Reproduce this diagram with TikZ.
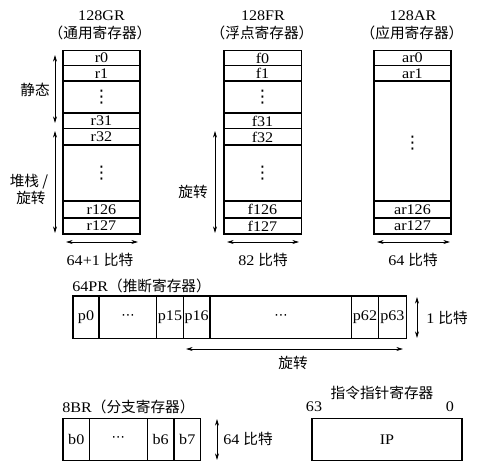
\documentclass[tikz,border=0pt]{standalone}
\usepackage{fontspec}
\setmainfont{Liberation Serif}[FakeStretch=1.1]
\newfontfamily\cjk{Noto Sans CJK SC}
\newfontfamily\dotfont{DejaVu Sans}
\usetikzlibrary{arrows.meta}
\newcommand{\vdotsym}{{\dotfont\fontsize{13}{13}\selectfont ⋮}}
\newcommand{\hdotsym}{{\dotfont\fontsize{10}{10}\selectfont ⋯}}
\tikzset{
	regline/.style={draw=black, line width=1.1pt},
	dimarrow/.style={draw=black, line width=0.6pt, {Stealth[length=5pt,width=3pt]}-{Stealth[length=5pt,width=3pt]}},
	txt/.style={black, inner sep=0pt, font=\fontsize{11}{13}\selectfont},
}
\begin{document}
\begin{tikzpicture}[x=0.75pt,y=-0.75pt]
	\useasboundingbox (0,0) rectangle (485,471);
	\node[txt] (grname) at (101.5,16) {128GR};
	\node[txt] (grcn) at (100,33) {\cjk （通用寄存器）};
	\node[txt] (frname) at (263,16) {128FR};
	\node[txt] (frcn) at (262,33) {\cjk （浮点寄存器）};
	\node[txt] (arname) at (413,16) {128AR};
	\node[txt] (arcn) at (412,33) {\cjk （应用寄存器）};
	\draw[regline] (63,50.5) rectangle (140,234);
	\foreach \y in {65.5,81,113,128.5,145,201,218}
		\draw[regline] (63,\y) -- (140,\y);
	\node[txt] (r0) at (101.5,58) {r0};
	\node[txt] (r1) at (101.5,73.5) {r1};
	\node[txt] (rdotsA) at (101.5,97) {\vdotsym};
	\node[txt] (r31) at (101.5,121) {r31};
	\node[txt] (r32) at (101.5,137) {r32};
	\node[txt] (rdotsB) at (101.5,173) {\vdotsym};
	\node[txt] (r126) at (101.5,209.5) {r126};
	\node[txt] (r127) at (101.5,226) {r127};
	\draw[regline] (224,50.5) rectangle (301.5,234);
	\foreach \y in {65.5,81,113,128.5,145,201,218}
		\draw[regline] (224,\y) -- (301.5,\y);
	\node[txt] (f0) at (262.5,58) {f0};
	\node[txt] (f1) at (262.5,73.5) {f1};
	\node[txt] (fdotsA) at (262.5,97) {\vdotsym};
	\node[txt] (f31) at (262.5,121) {f31};
	\node[txt] (f32) at (262.5,137) {f32};
	\node[txt] (fdotsB) at (262.5,173) {\vdotsym};
	\node[txt] (f126) at (262.5,209.5) {f126};
	\node[txt] (f127) at (262.5,226) {f127};
	\draw[regline] (374,50.5) rectangle (451,234);
	\foreach \y in {65.5,81,201,218}
		\draw[regline] (374,\y) -- (451,\y);
	\node[txt] (ar0) at (412.5,58) {ar0};
	\node[txt] (ar1) at (412.5,73.5) {ar1};
	\node[txt] (ardots) at (412.5,143) {\vdotsym};
	\node[txt] (ar126) at (412.5,209.5) {ar126};
	\node[txt] (ar127) at (412.5,226) {ar127};
	\coordinate (grstatT) at (55,55);
	\coordinate (grstatB) at (55,123);
	\coordinate (grrotT) at (55,131);
	\coordinate (grrotB) at (55,233);
	\draw[dimarrow] (grstatT) -- (grstatB);
	\draw[dimarrow] (grrotT) -- (grrotB);
	\node[txt] (static) at (35,90) {\cjk 静态};
	\node[txt] (stack) at (29,182) {\cjk 堆栈 /};
	\node[txt] (grrot) at (31,198) {\cjk 旋转};
	\coordinate (frrotT) at (215,131);
	\coordinate (frrotB) at (215,233);
	\draw[dimarrow] (frrotT) -- (frrotB);
	\node[txt] (frrot) at (193,192) {\cjk 旋转};
	\coordinate (grwL) at (66,242);
	\coordinate (grwR) at (138,242);
	\coordinate (frwL) at (227,242);
	\coordinate (frwR) at (299,242);
	\coordinate (arwL) at (377,242);
	\coordinate (arwR) at (450,242);
	\draw[dimarrow] (grwL) -- (grwR);
	\draw[dimarrow] (frwL) -- (frwR);
	\draw[dimarrow] (arwL) -- (arwR);
	\node[txt] (grbits) at (100,260) {64+1 {\cjk 比特}};
	\node[txt] (frbits) at (263,260) {82 {\cjk 比特}};
	\node[txt] (arbits) at (413,260) {64 {\cjk 比特}};
	\node[txt, anchor=west] (prname) at (72,286) {64PR{\cjk （推断寄存器）}};
	\draw[regline] (73,296) rectangle (406.5,338.5);
	\foreach \x in {99,156.7,183.3,210,351.7,378.3}
		\draw[regline] (\x,296) -- (\x,338.5);
	\node[txt] (p0) at (86,317) {p0};
	\node[txt] (pdotsA) at (128,317) {\hdotsym};
	\node[txt] (p15) at (170,317) {p15};
	\node[txt] (p16) at (196.7,317) {p16};
	\node[txt] (pdotsB) at (281,317) {\hdotsym};
	\node[txt] (p62) at (365,317) {p62};
	\node[txt] (p63) at (392.4,317) {p63};
	\coordinate (prhT) at (417,297);
	\coordinate (prhB) at (417,338);
	\draw[dimarrow] (prhT) -- (prhB);
	\node[txt, anchor=west] (prbits) at (426,318) {1 {\cjk 比特}};
	\coordinate (prrotL) at (186,349);
	\coordinate (prrotR) at (403,349);
	\draw[dimarrow] (prrotL) -- (prrotR);
	\node[txt] (prrot) at (293,363) {\cjk 旋转};
	\node[txt, anchor=west] (brname) at (62,407) {8BR{\cjk （分支寄存器）}};
	\draw[regline] (63,418.3) rectangle (200.7,460.7);
	\foreach \x in {89.3,147.3,174}
		\draw[regline] (\x,418.3) -- (\x,460.7);
	\node[txt] (b0) at (76.3,439.5) {b0};
	\node[txt] (bdots) at (118.3,439.5) {\hdotsym};
	\node[txt] (b6) at (160.7,439.5) {b6};
	\node[txt] (b7) at (187.3,439.5) {b7};
	\coordinate (brhT) at (217,419);
	\coordinate (brhB) at (217,460);
	\draw[dimarrow] (brhT) -- (brhB);
	\node[txt, anchor=west] (brbits) at (223,439) {64 {\cjk 比特}};
	\node[txt] (ipname) at (382,393) {\cjk 指令指针寄存器};
	\node[txt] (ipmsb) at (314,407) {63};
	\node[txt] (iplsb) at (450,407) {0};
	\draw[regline] (312,418.3) rectangle (462,460.7);
	\node[txt] (ip) at (387,440) {IP};
\end{tikzpicture}
\end{document}
